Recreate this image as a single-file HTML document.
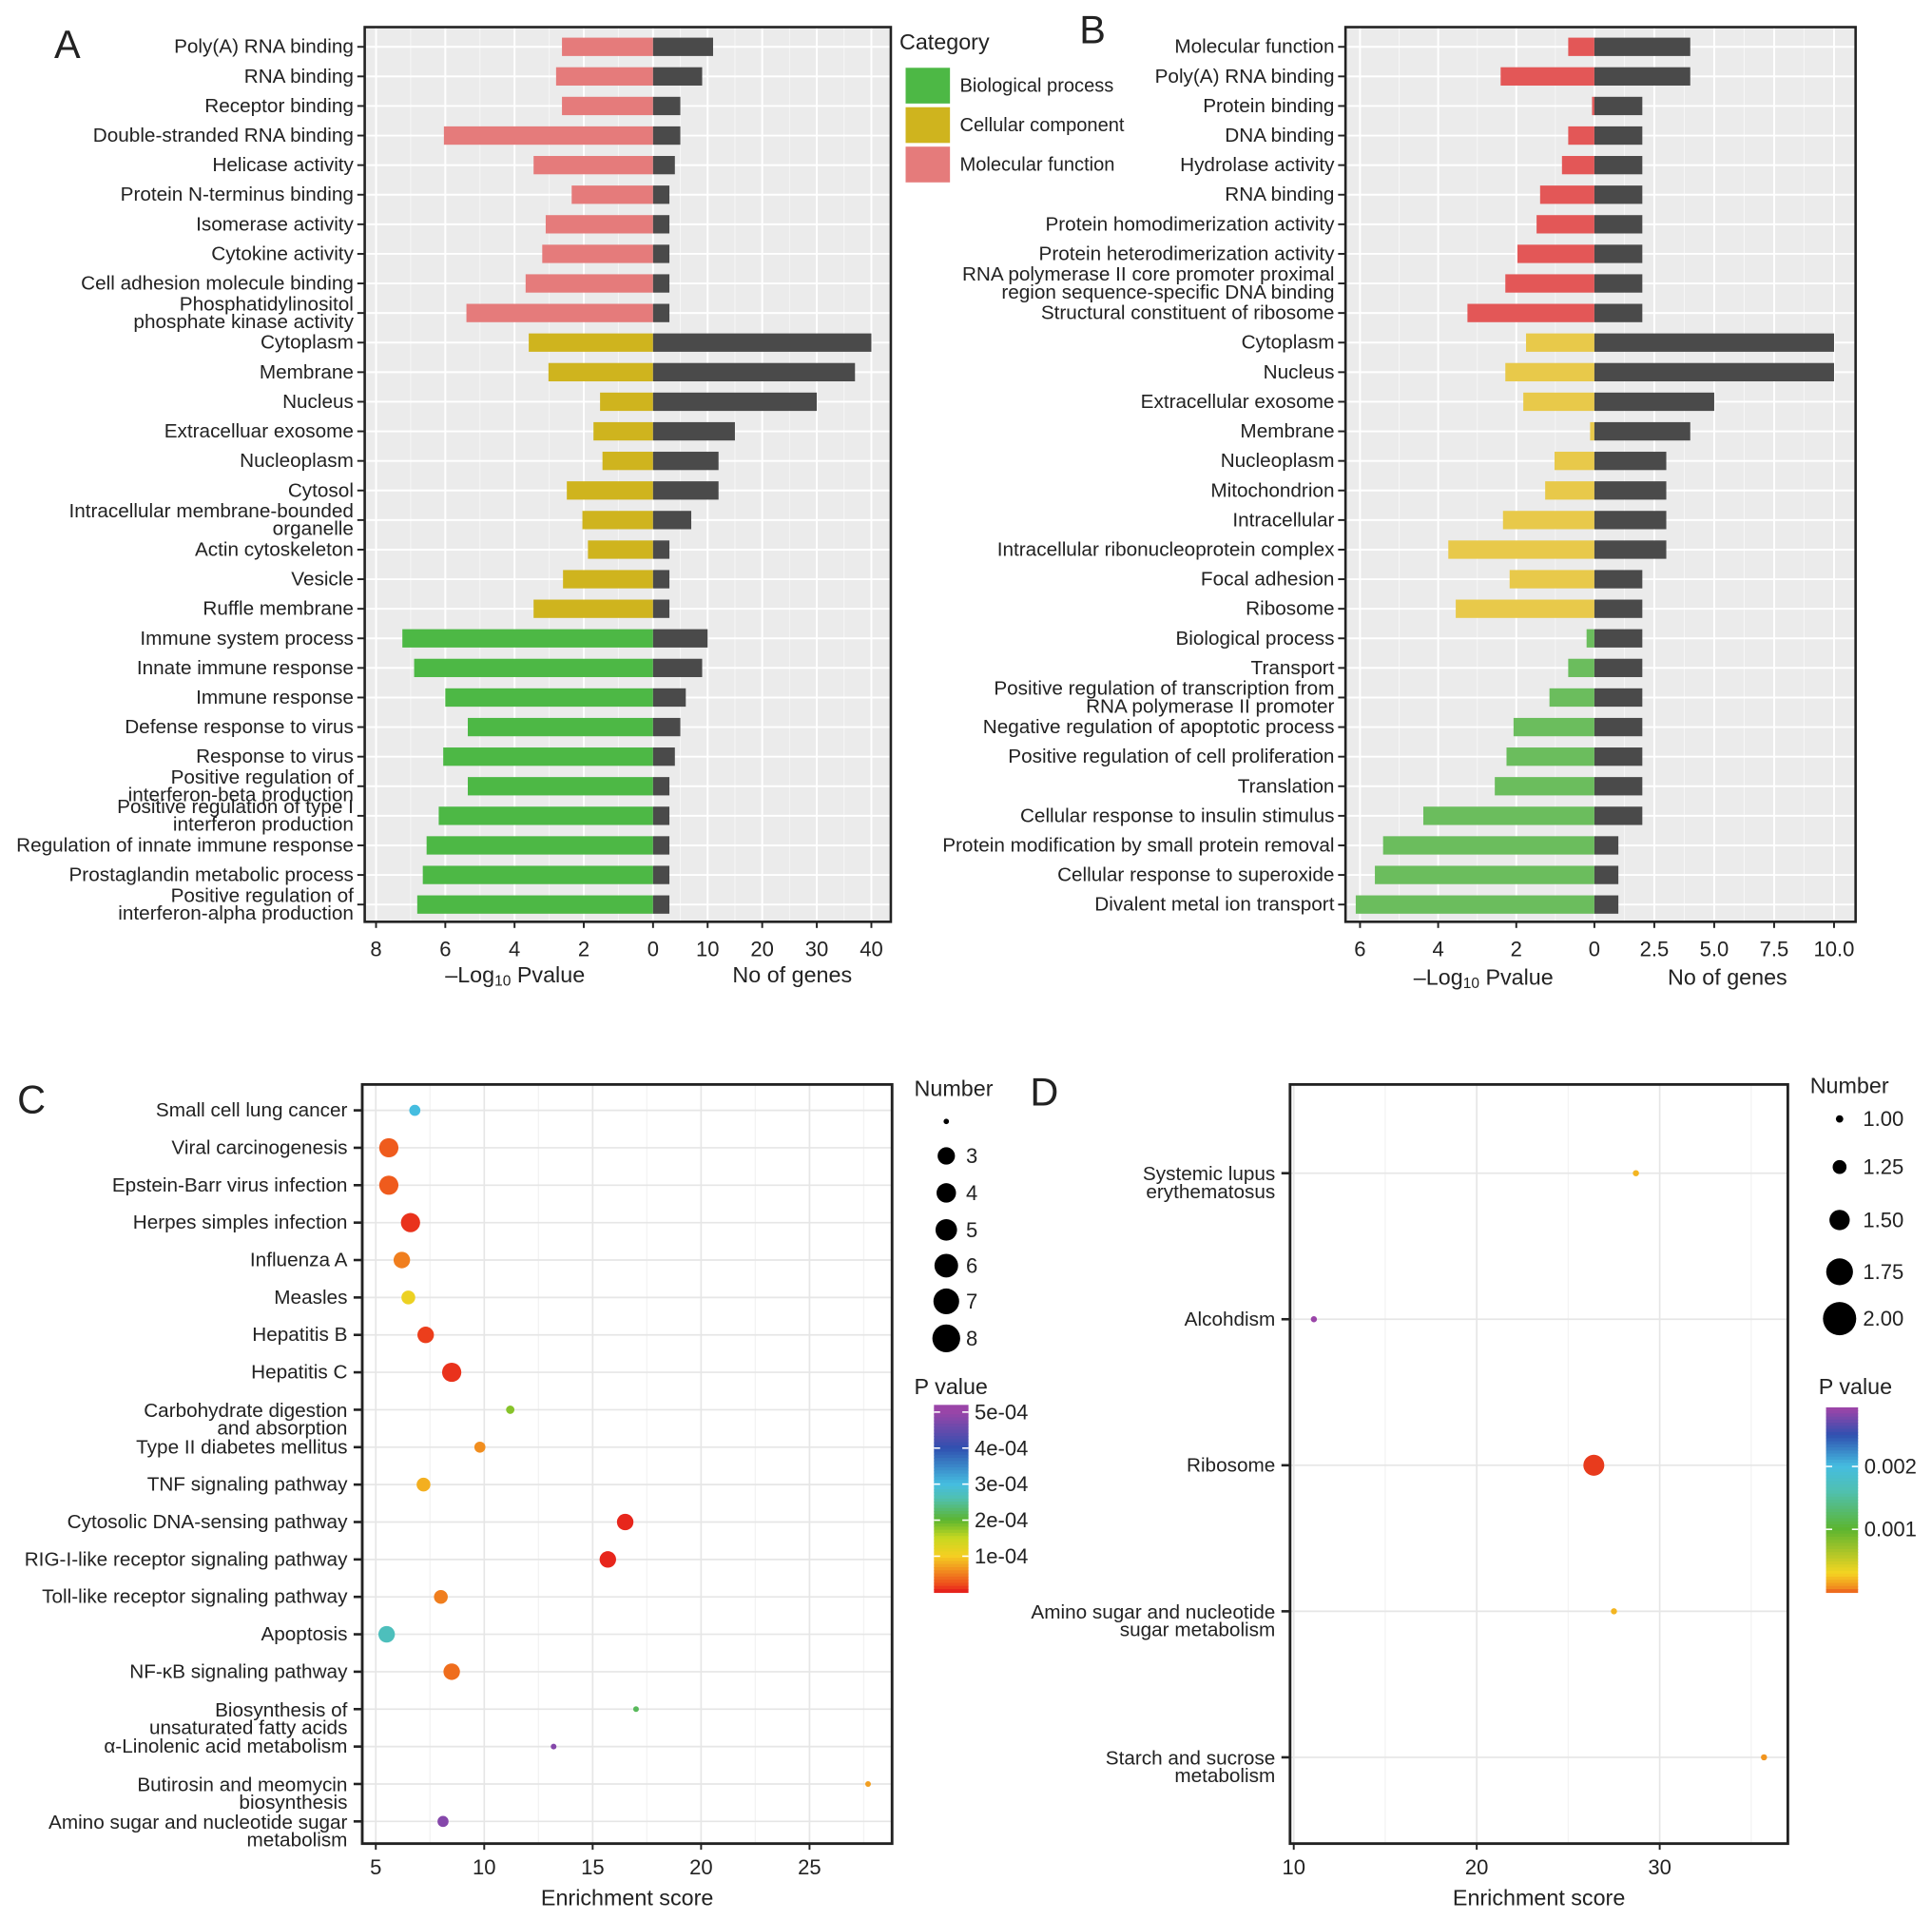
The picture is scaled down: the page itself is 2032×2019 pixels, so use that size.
<!DOCTYPE html>
<html><head><meta charset="utf-8">
<style>
html,body{margin:0;padding:0;background:#fff;}
svg{display:block;font-family:"Liberation Sans",Arial,sans-serif;}
</style></head>
<body>
<svg id="fig" width="2032" height="2019" viewBox="0 0 1568 1558" preserveAspectRatio="none" xmlns="http://www.w3.org/2000/svg"></svg>
<script>
// ---------- Panel A data ----------
const aLabels = ["Poly(A) RNA binding","RNA binding","Receptor binding","Double-stranded RNA binding","Helicase activity","Protein N-terminus binding","Isomerase activity","Cytokine activity","Cell adhesion molecule binding","Phosphatidylinositol\nphosphate kinase activity","Cytoplasm","Membrane","Nucleus","Extracelluar exosome","Nucleoplasm","Cytosol","Intracellular membrane-bounded\norganelle","Actin cytoskeleton","Vesicle","Ruffle membrane","Immune system process","Innate immune response","Immune response","Defense response to virus","Response to virus","Positive regulation of\ninterferon-beta production","Positive regulation of type I\ninterferon production","Regulation of innate immune response","Prostaglandin metabolic process","Positive regulation of\ninterferon-alpha production"];
const aLogP = [2.63,2.8,2.63,6.04,3.45,2.35,3.1,3.2,3.68,5.39,3.59,3.02,1.53,1.72,1.46,2.49,2.04,1.88,2.6,3.45,7.24,6.9,6.0,5.35,6.06,5.35,6.19,6.54,6.65,6.81];
const aGenes = [11,9,5,5,4,3,3,3,3,3,40,37,30,15,12,12,7,3,3,3,10,9,6,5,4,3,3,3,3,3];
const aCat = ["MF","MF","MF","MF","MF","MF","MF","MF","MF","MF","CC","CC","CC","CC","CC","CC","CC","CC","CC","CC","BP","BP","BP","BP","BP","BP","BP","BP","BP","BP"];
const aLeftTicks = [8,6,4,2,0];
const aRightTicks = [10,20,30,40];
// ---------- Panel B data ----------
const bLabels = ["Molecular function","Poly(A) RNA binding","Protein binding","DNA binding","Hydrolase activity","RNA binding","Protein homodimerization activity","Protein heterodimerization activity","RNA polymerase II core promoter proximal\nregion sequence-specific DNA binding","Structural constituent of ribosome","Cytoplasm","Nucleus","Extracellular exosome","Membrane","Nucleoplasm","Mitochondrion","Intracellular","Intracellular ribonucleoprotein complex","Focal adhesion","Ribosome","Biological process","Transport","Positive regulation of transcription from\nRNA polymerase II promoter","Negative regulation of apoptotic process","Positive regulation of cell proliferation","Translation","Cellular response to insulin stimulus","Protein modification by small protein removal","Cellular response to superoxide","Divalent metal ion transport"];
const bLogP = [0.67,2.4,0.06,0.67,0.83,1.39,1.48,1.97,2.28,3.25,1.75,2.28,1.82,0.11,1.02,1.26,2.34,3.74,2.17,3.55,0.2,0.67,1.15,2.07,2.25,2.55,4.38,5.41,5.62,6.11];
const bGenes = [4,4,2,2,2,2,2,2,2,2,10,10,5,4,3,3,3,3,2,2,2,2,2,2,2,2,2,1,1,1];
const bCat = ["MF","MF","MF","MF","MF","MF","MF","MF","MF","MF","CC","CC","CC","CC","CC","CC","CC","CC","CC","CC","BP","BP","BP","BP","BP","BP","BP","BP","BP","BP"];
const bLeftTicks = [6,4,2,0];
const bRightTicks = [2.5,5.0,7.5,10.0];
// ---------- Panel C data ----------
const cLabels = ["Small cell lung cancer","Viral carcinogenesis","Epstein-Barr virus infection","Herpes simples infection","Influenza A","Measles","Hepatitis B","Hepatitis C","Carbohydrate digestion\nand absorption","Type II diabetes mellitus","TNF signaling pathway","Cytosolic DNA-sensing pathway","RIG-I-like receptor signaling pathway","Toll-like receptor signaling pathway","Apoptosis","NF-\u03BAB signaling pathway","Biosynthesis of\nunsaturated fatty acids","\u03B1-Linolenic acid metabolism","Butirosin and meomycin\nbiosynthesis","Amino sugar and nucleotide sugar\nmetabolism"];
const cScore = [6.8,5.6,5.6,6.6,6.2,6.5,7.3,8.5,11.2,9.8,7.2,16.5,15.7,8.0,5.5,8.5,17.0,13.2,27.7,8.1];
const cNumber = [3,6,6,6,5,4,5,6,2,3,4,5,5,4,5,5,1,1,1,3];
const cPvalue = [3.0e-4,0.3e-4,0.3e-4,0.1e-4,0.5e-4,1.1e-4,0.15e-4,0.1e-4,1.8e-4,0.6e-4,0.8e-4,0.05e-4,0.05e-4,0.5e-4,2.7e-4,0.4e-4,2.2e-4,4.8e-4,0.7e-4,4.8e-4];
const cTicks = [5,10,15,20,25];
const cSizeLegend = [1,3,4,5,6,7,8];
const cPTicks = [1e-4,2e-4,3e-4,4e-4,5e-4];
const cPTickLabels = ["1e-04","2e-04","3e-04","4e-04","5e-04"];
// ---------- Panel D data ----------
const dLabels = ["Systemic lupus\nerythematosus","Alcohdism","Ribosome","Amino sugar and nucleotide\nsugar metabolism","Starch and sucrose\nmetabolism"];
const dScore = [28.7,11.1,26.4,27.5,35.7];
const dNumber = [1,1,2,1,1];
const dPvalue = [0.0002,0.0029,0.00001,0.0002,0.0001];
const dTicks = [10,20,30];
const dSizeLegend = [1.00,1.25,1.50,1.75,2.00];
const dSizeLegendLabels = ["1.00","1.25","1.50","1.75","2.00"];
const dPTicks = [0.001,0.002];
const dPTickLabels = ["0.001","0.002"];

const NS="http://www.w3.org/2000/svg";
const svg=document.getElementById('fig');
const LF=16;
function mk(tag,attrs,parent){const e=document.createElementNS(NS,tag);for(const k in attrs)e.setAttribute(k,attrs[k]);(parent||svg).appendChild(e);return e;}
function txt(str,x,y,size,anchor,parent,extra){
  const lines=str.split("\n");const t=mk('text',Object.assign({x:x,y:y,'font-size':size,'text-anchor':anchor||'start',fill:'#222'},extra||{}),parent);
  if(lines.length===1){t.textContent=str;t.setAttribute('dominant-baseline','central');}
  else{lines.forEach((l,i)=>{const ts=mk('tspan',{x:x,y:y+(i-(lines.length-1)/2)*size*0.9,'dominant-baseline':'central'},t);ts.textContent=l;});}
  return t;
}
const COLA={MF:"#e57b7b",CC:"#cfb41e",BP:"#4db845"};
const COLB={MF:"#e35757",CC:"#e8c94a",BP:"#6bbd5d"};

function barPanel(name,box,zeroX,leftScale,rightScale,labels,logp,genes,cat,cols,leftTicks,rightTicks,rightFmt,rightMinor){
  const g=mk('g',{});
  
  
  const [x0,y0,x1,y1]=box;
  const bg=mk('rect',{x:x0,y:y0,width:x1-x0,height:y1-y0,fill:'#ebebeb'},g);
  
  
  const lx=v=>zeroX-v*leftScale, rx=v=>zeroX+v*rightScale;
  for(let i=0;i<leftTicks.length-1;i++){const m=(leftTicks[i]+leftTicks[i+1])/2;mk('line',{x1:lx(m),x2:lx(m),y1:y0,y2:y1,stroke:'#f6f6f6','stroke-width':0.8},g);}
  leftTicks.forEach(v=>mk('line',{x1:lx(v),x2:lx(v),y1:y0,y2:y1,stroke:'#fff','stroke-width':1.5},g));
  rightMinor.forEach(v=>mk('line',{x1:rx(v),x2:rx(v),y1:y0,y2:y1,stroke:'#f6f6f6','stroke-width':0.8},g));
  rightTicks.forEach(v=>mk('line',{x1:rx(v),x2:rx(v),y1:y0,y2:y1,stroke:'#fff','stroke-width':1.5},g));
  const n=labels.length, top=38, bot=734, step=(bot-top)/(n-1);
  const ry=i=>top+i*step;
  for(let i=0;i<n;i++) mk('line',{x1:x0,x2:x1,y1:ry(i),y2:ry(i),stroke:'#fff','stroke-width':1.5},g);
  const bh=step*0.62;
  for(let i=0;i<n;i++){
    const y=ry(i);
    const b1=mk('rect',{x:lx(logp[i]),y:y-bh/2,width:logp[i]*leftScale,height:bh,fill:cols[cat[i]]},g);
    
    
    const b2=mk('rect',{x:zeroX,y:y-bh/2,width:genes[i]*rightScale,height:bh,fill:'#4a4a4a'},g);
    
    
    mk('line',{x1:x0-6,x2:x0,y1:y,y2:y,stroke:'#222','stroke-width':1.5},g);
    const t=txt(labels[i],x0-9,y,LF,'end',g);
    
    
  }
  mk('rect',{x:x0,y:y0,width:x1-x0,height:y1-y0,fill:'none',stroke:'#222','stroke-width':2},g);
  leftTicks.forEach(v=>{mk('line',{x1:lx(v),x2:lx(v),y1:y1,y2:y1+5,stroke:'#222','stroke-width':1.5},g);const t=txt(String(v),lx(v),y1+22,17,'middle',g);});
  rightTicks.forEach(v=>{mk('line',{x1:rx(v),x2:rx(v),y1:y1,y2:y1+5,stroke:'#222','stroke-width':1.5},g);const t=txt(rightFmt(v),rx(v),y1+22,17,'middle',g);});
  return g;
}
const gA=barPanel('panel-a',[296,22,723,748],530,28.1,4.43,aLabels,aLogP,aGenes,aCat,COLA,aLeftTicks,aRightTicks,v=>String(v),[5,15,25,35]);
const gB=barPanel('panel-b',[1092,22,1506,748],1294,31.7,19.45,bLabels,bLogP,bGenes,bCat,COLB,bLeftTicks,bRightTicks,v=>v.toFixed(1),[1.25,3.75,6.25,8.75]);

function axisTitles(g,cx1,cx2,y){
  const t1=mk('text',{x:cx1,y:y,'font-size':18,'text-anchor':'middle',fill:'#222','dominant-baseline':'central'},g);
  
  
  t1.innerHTML='\u2013Log<tspan font-size="12" dy="5">10</tspan><tspan dy="-5"> Pvalue</tspan>';
  const t2=txt('No of genes',cx2,y,18,'middle',g);
  
  
}
axisTitles(gA,418,643,791);
axisTitles(gB,1204,1402,793);

const lg=mk('g',{});


txt('Category',730,34,18,'start',lg);
[["Biological process","#4db845",55],["Cellular component","#cfb41e",87],["Molecular function","#e57b7b",119]].forEach(([l,c,y])=>{
  const r=mk('rect',{x:735,y:y,width:36,height:29,fill:c},lg);
  
  
  txt(l,779,y+15,15.5,'start',lg);
});

[["A",44,36],["B",876,24],["C",14,892],["D",836,886]].forEach(([l,x,y])=>{
  const t=txt(l,x,y,32,'start');
  
  
});

function interp(stops,v){
  if(v<=stops[0][0])return stops[0][1];
  for(let i=1;i<stops.length;i++){if(v<=stops[i][0]){const [a,ca]=stops[i-1],[b,cb]=stops[i];const t=(v-a)/(b-a);
    const pa=[1,3,5].map(k=>parseInt(ca.substr(k,2),16)),pb=[1,3,5].map(k=>parseInt(cb.substr(k,2),16));
    return 'rgb('+pa.map((q,j)=>Math.round(q+(pb[j]-q)*t)).join(',')+')';}}
  return stops[stops.length-1][1];
}
const cStops=[[0,"#e41a1c"],[0.2e-4,"#ee4a1c"],[0.5e-4,"#f07e1e"],[1e-4,"#f5cf22"],[1.5e-4,"#c8d820"],[2e-4,"#5cb530"],[2.6e-4,"#50c0b0"],[3e-4,"#45bde0"],[4e-4,"#3050b0"],[5e-4,"#9a45a8"]];
const dStops=[[0,"#e41a1c"],[0.00003,"#f07e1e"],[0.0003,"#f5d522"],[0.001,"#5cb530"],[0.0016,"#50c0b0"],[0.002,"#45bde0"],[0.0025,"#3050b0"],[0.0029,"#9a45a8"]];

function dotPanel(name,box,xmin,x0data,xscale,xTicks,labels,rows,scores,nums,pvals,stops,rfn,minor){
  const g=mk('g',{});
  
  
  const [x0,y0,x1,y1]=box;
  const xs=v=>x0data+(v-xmin)*xscale;
  minor.forEach(v=>mk('line',{x1:xs(v),x2:xs(v),y1:y0,y2:y1,stroke:'#f3f3f3','stroke-width':1},g));
  xTicks.forEach(v=>mk('line',{x1:xs(v),x2:xs(v),y1:y0,y2:y1,stroke:'#e6e6e6','stroke-width':1.3},g));
  rows.forEach(y=>mk('line',{x1:x0,x2:x1,y1:y,y2:y,stroke:'#e6e6e6','stroke-width':1.3},g));
  labels.forEach((l,i)=>{
    mk('line',{x1:x0-7,x2:x0,y1:rows[i],y2:rows[i],stroke:'#222','stroke-width':2},g);
    const t=txt(l,x0-12,rows[i]+(l.includes("\n")?8:0),LF,'end',g);
    
    
    const c=mk('circle',{cx:xs(scores[i]),cy:rows[i],r:rfn(nums[i]),fill:interp(stops,pvals[i])},g);
    
    
  });
  mk('rect',{x:x0,y:y0,width:x1-x0,height:y1-y0,fill:'none',stroke:'#222','stroke-width':2.2},g);
  xTicks.forEach(v=>{mk('line',{x1:xs(v),x2:xs(v),y1:y1,y2:y1+5,stroke:'#222','stroke-width':1.5},g);const t=txt(String(v),xs(v),y1+19,17,'middle',g);});
  const at=txt('Enrichment score',(x0+x1)/2,y1+44,18,'middle',g);
  
  
  return g;
}
const cRows=cLabels.map((_,i)=>901+i*(1478-901)/19);
const gC=dotPanel('panel-c',[294,880,724,1496],5,305,17.6,cTicks,cLabels,cRows,cScore,cNumber,cPvalue,cStops,s=>1.1*s+1.2,[7.5,12.5,17.5,22.5,27.5]);
const dRows=dLabels.map((_,i)=>952+i*118.5);
const gD=dotPanel('panel-d',[1047,880,1451,1496],10,1050,14.85,dTicks,dLabels,dRows,dScore,dNumber,dPvalue,dStops,s=>s>1.5?8.5:2.5,[15,25,35]);

const slc=mk('g',{});


txt('Number',742,883,18,'start',slc);
const cLegY=[910,938,968,998,1027,1056,1086];
cSizeLegend.forEach((s,i)=>{mk('circle',{cx:768,cy:cLegY[i],r:s===1?2.2:4.5+s*0.85,fill:'#000'},slc);if(s>1)txt(String(s),784,cLegY[i],17,'start',slc);});
const sld=mk('g',{});


txt('Number',1469,881,18,'start',sld);
const dLegY=[908,947,990,1032,1070];
dSizeLegend.forEach((s,i)=>{mk('circle',{cx:1493,cy:dLegY[i],r:3+(s-1)*10.5,fill:'#000'},sld);txt(dSizeLegendLabels[i],1512,dLegY[i],17,'start',sld);});

function colorbar(name,x,y0,y1,w,vmax,stops,ticks,tickLabels,tx,tix){
  const g=mk('g',{});
  
  
  txt('P value',tx,tix,18,'start',g);
  const n=60,h=(y1-y0)/n;
  for(let i=0;i<n;i++){const v=vmax*(1-(i+0.5)/n);mk('rect',{x:x,y:y0+i*h,width:w,height:h+0.6,fill:interp(stops,v)},g);}
  ticks.forEach((v,i)=>{const yy=y1-(v/vmax)*(y1-y0);
    mk('line',{x1:x,x2:x+5,y1:yy,y2:yy,stroke:'#fff','stroke-width':1.2},g);
    mk('line',{x1:x+w-5,x2:x+w,y1:yy,y2:yy,stroke:'#fff','stroke-width':1.2},g);
    txt(tickLabels[i],x+w+5,yy,17,'start',g);});
}
colorbar('pvalue-colorbar-c',758,1140,1292,28,5.2e-4,cStops,cPTicks,cPTickLabels,742,1125);
colorbar('pvalue-colorbar-d',1482,1142,1292,26,0.00294,dStops,dPTicks,dPTickLabels,1476,1125);
</script>
</body></html>
